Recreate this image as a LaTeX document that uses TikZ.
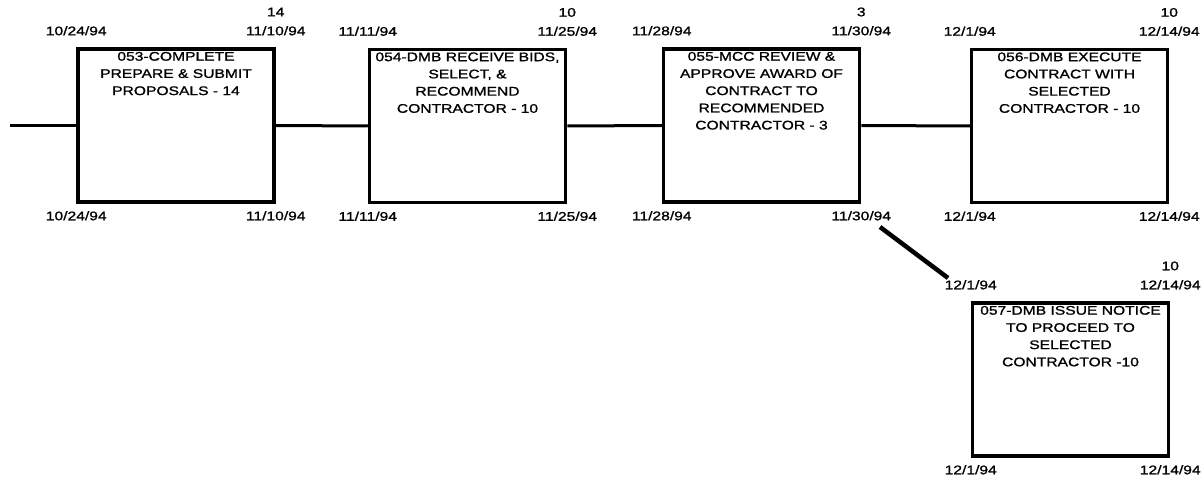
\documentclass[tikz,border=0pt]{standalone}
\usepackage{fontspec}
\usepackage{tikz}
\newfontfamily\pertfont[FakeStretch=1.25,FakeBold=1.2]{Liberation Sans}
% the four dates and the duration round one activity box
\newcommand{\pertdates}[4]{%
  \node[datelbl] (#1-st) at ([yshift=12]#1.north west) {#2};
  \node[datelbl] (#1-ft) at ([yshift=12]#1.north east) {#3};
  \node[datelbl] (#1-d) at ([yshift=31]#1.north east) {#4};
  \node[datelbl] (#1-sb) at ([yshift=-16.5]#1.south west) {#2};
  \node[datelbl] (#1-fb) at ([yshift=-16.5]#1.south east) {#3};
}

\begin{document}
\begin{tikzpicture}[x=1pt,y=-1pt,
  actbox/.style={draw,line width=3.5pt,minimum width=196pt,minimum height=153pt,inner sep=0pt},
  acttext/.style={anchor=north,align=center,inner sep=0pt,font=\pertfont\fontsize{12.5}{17.2}\selectfont},
  datelbl/.style={anchor=base,inner sep=0pt,font=\pertfont\fontsize{12.5}{15}\selectfont},
  link/.style={line width=3pt}]
  \useasboundingbox (0,0) rectangle (1204,481);

  % activity boxes
  \node[actbox] (a53) at (176,125.5) {};
  \node[actbox] (a54) at (467.5,126) {};
  \node[actbox] (a55) at (761.5,125.5) {};
  \node[actbox] (a56) at (1069.5,126) {};
  \node[actbox] (a57) at (1070.5,379.5) {};

  \node[acttext] (t53) at ([yshift=-4.5]a53.north) {053-COMPLETE\\PREPARE \& SUBMIT\\PROPOSALS - 14};
  \node[acttext] (t54) at ([yshift=-4.5]a54.north) {054-DMB RECEIVE BIDS,\\SELECT, \&\\RECOMMEND\\CONTRACTOR - 10};
  \node[acttext] (t55) at ([yshift=-4.5]a55.north) {055-MCC REVIEW \&\\APPROVE AWARD OF\\CONTRACT TO\\RECOMMENDED\\CONTRACTOR - 3};
  \node[acttext] (t56) at ([yshift=-4.5]a56.north) {056-DMB EXECUTE\\CONTRACT WITH\\SELECTED\\CONTRACTOR - 10};
  \node[acttext] (t57) at ([yshift=-4.5]a57.north) {057-DMB ISSUE NOTICE\\TO PROCEED TO\\SELECTED\\CONTRACTOR -10};

  \pertdates{a53}{10/24/94}{11/10/94}{14}
  \pertdates{a54}{11/11/94}{11/25/94}{10}
  \pertdates{a55}{11/28/94}{11/30/94}{3}
  \pertdates{a56}{12/1/94}{12/14/94}{10}
  \pertdates{a57}{12/1/94}{12/14/94}{10}

  % links
  \coordinate (in) at (10,125.5);
  \coordinate (br1) at (880,227);
  \coordinate (br2) at (948,278);
  \draw[link] (in) -- (a53.west);
  \draw[link] (a53.east) -- (a54.west);
  \draw[link] (a54.east) -- (a55.west);
  \draw[link] (a55.east) -- (a56.west);
  \draw[line width=4.5pt] (br1) -- (br2);
\end{tikzpicture}
\end{document}
